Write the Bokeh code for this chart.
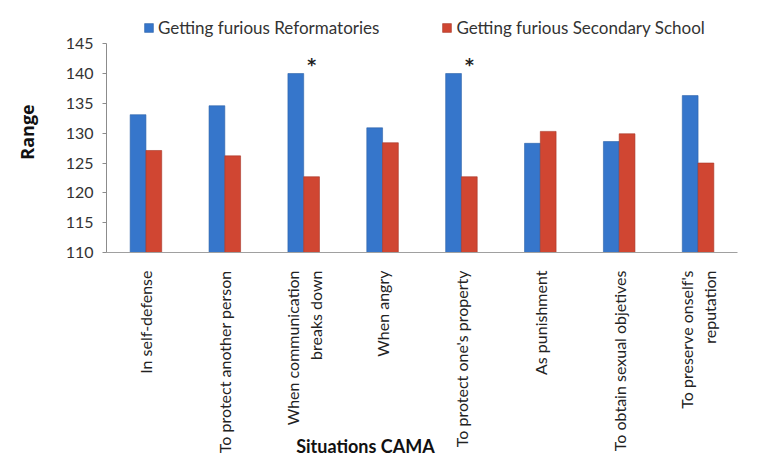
from bokeh.plotting import figure
from bokeh.models import ColumnDataSource, FixedTicker, Legend, LegendItem
from bokeh.transform import dodge
from bokeh.core.properties import value
from bokeh.embed import file_html
from bokeh.resources import INLINE
import math

categories = [
    "In self-defense",
    "To protect another person",
    "When communication\nbreaks down",
    "When angry",
    "To protect one's property",
    "As punishment",
    "To obtain sexual objetives",
    "To preserve onself's\nreputation",
]
reformatories = [133.1, 134.6, 140.0, 130.9, 140.0, 128.3, 128.6, 136.3]
secondary = [127.1, 126.2, 122.7, 128.4, 122.7, 130.3, 129.9, 125.0]
marks = ["", "", "*", "", "*", "", "", ""]
series_names = ["Getting furious Reformatories", "Getting furious Secondary School"]
yticks = [110, 115, 120, 125, 130, 135, 140, 145]
x_title = "Situations CAMA"
y_title = "Range"

src = ColumnDataSource(dict(cats=categories, ref=reformatories, sec=secondary,
                            marks=marks, mark_y=[v + 1.5 for v in reformatories]))

# the frame reaches above 145 so that the legend (drawn inside the frame) is not clipped;
# the y axis itself is bounded to 110..145
p = figure(x_range=categories, y_range=(110, 150.4), width=760, height=461,
           output_backend="svg", toolbar_location=None)
p.min_border_left = 106
p.min_border_top = 11
p.min_border_bottom = 209
p.min_border_right = 23
p.outline_line_color = None
p.grid.visible = False

r1 = p.vbar(x=dodge("cats", -0.1, range=p.x_range), top="ref", bottom=110, width=0.2,
            source=src, fill_color="#3676cb", line_color="#2b62a8", line_width=0.6)
r2 = p.vbar(x=dodge("cats", 0.1, range=p.x_range), top="sec", bottom=110, width=0.2,
            source=src, fill_color="#d04632", line_color="#a83526", line_width=0.6)

p.text(x=dodge("cats", 0.1, range=p.x_range), y="mark_y", text="marks", source=src,
       text_font=value("DejaVu Sans"), text_font_size="17px", text_font_style="bold",
       text_align="center", text_baseline="middle", text_color="#222222")

# y axis
p.yaxis.ticker = FixedTicker(ticks=yticks)
p.yaxis.bounds = (yticks[0], yticks[-1])
p.yaxis.axis_label = y_title
p.yaxis.axis_label_text_font = "Open Sans"
p.yaxis.axis_label_text_font_style = "bold"
p.yaxis.axis_label_text_font_size = "18px"
p.yaxis.axis_label_text_color = "#111111"
p.yaxis.axis_label_standoff = 24
p.yaxis.major_label_text_font = "Lato"
p.yaxis.major_label_text_font_size = "16px"
p.yaxis.major_label_text_color = "#333333"
p.yaxis.major_tick_out = 4
p.yaxis.major_tick_in = 0
p.yaxis.minor_tick_line_color = None
p.yaxis.axis_line_color = "#8c8c8c"
p.yaxis.major_tick_line_color = "#8c8c8c"
p.yaxis.major_label_standoff = 9

# x axis
p.xaxis.major_label_orientation = math.pi / 2
p.xaxis.major_label_text_font = "Lato"
p.xaxis.major_label_text_font_size = "16px"
p.xaxis.major_label_text_color = "#222222"
p.xaxis.major_tick_line_color = None
p.xaxis.major_label_standoff = 12
p.xaxis.axis_line_color = "#a0a0a0"
p.xaxis.axis_label = x_title + "\u00a0" * 26
p.xaxis.axis_label_text_font = "Lato"
p.xaxis.axis_label_text_font_style = "bold"
p.xaxis.axis_label_text_font_size = "18px"
p.xaxis.axis_label_text_color = "#111111"
p.xaxis.axis_label_standoff = -21

legend = Legend(items=[LegendItem(label=series_names[0], renderers=[r1]),
                       LegendItem(label=series_names[1], renderers=[r2])],
                orientation="horizontal", location=(37, 214),
                label_text_font="Lato", label_text_font_size="17px", label_text_color="#333333",
                glyph_width=11, glyph_height=11, spacing=62, padding=3, margin=0,
                border_line_color=None, background_fill_alpha=0, label_standoff=4)
p.add_layout(legend)

open("out.html", "w").write(file_html(p, INLINE))
